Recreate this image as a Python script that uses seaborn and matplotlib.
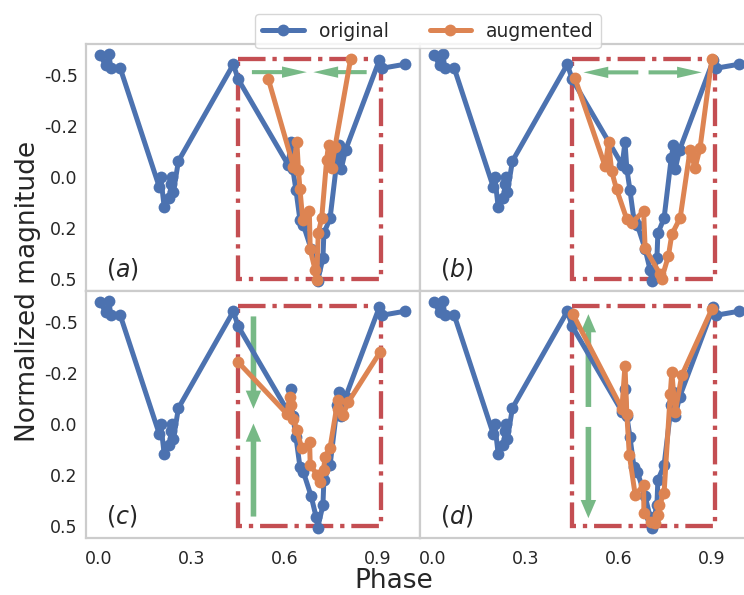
import matplotlib
matplotlib.use("Agg")
import matplotlib.pyplot as plt
import seaborn as sns
from matplotlib.patches import Rectangle

# ---------------- data ----------------
phase_orig = [0.003, 0.022, 0.032, 0.038, 0.068, 0.194, 0.199, 0.210, 0.226, 0.233,
              0.236, 0.240, 0.256, 0.433, 0.449, 0.610, 0.619, 0.625, 0.635, 0.648,
              0.659, 0.684, 0.700, 0.705, 0.722, 0.725, 0.745, 0.768, 0.775, 0.781,
              0.795, 0.904, 0.912, 0.987]
mag_orig = [-0.538, -0.494, -0.541, -0.480, -0.482, 0.042, -0.002, 0.130, 0.093, 0.031,
            -0.002, 0.064, -0.071, -0.497, -0.431, -0.054, -0.155, -0.036, 0.057, 0.189,
            0.211, 0.317, 0.409, 0.457, 0.357, 0.247, 0.181, -0.083, -0.142, -0.036,
            -0.120, -0.516, -0.480, -0.498]

# (a) horizontal squeeze
phase_a = [0.546, 0.627, 0.638, 0.643, 0.648, 0.657, 0.678, 0.681, 0.697, 0.702,
           0.707, 0.718, 0.734, 0.740, 0.750, 0.761, 0.811]
mag_a = [-0.432, -0.047, -0.154, -0.033, 0.054, 0.190, 0.147, 0.318, 0.410, 0.454,
         0.244, 0.182, -0.077, -0.143, -0.042, -0.134, -0.519]

# (b) horizontal stretch
phase_b = [0.458, 0.555, 0.566, 0.576, 0.592, 0.625, 0.641, 0.679, 0.684, 0.732,
           0.737, 0.759, 0.770, 0.797, 0.829, 0.834, 0.845, 0.861, 0.899]
mag_b = [-0.435, -0.048, -0.155, -0.026, 0.054, 0.186, 0.200, 0.150, 0.313, 0.427,
         0.449, 0.347, 0.252, 0.179, -0.121, -0.092, -0.041, -0.129, -0.520]

# (c) vertical squeeze
phase_c = [0.449, 0.605, 0.616, 0.618, 0.627, 0.638, 0.654, 0.679, 0.681, 0.704,
           0.711, 0.724, 0.729, 0.745, 0.770, 0.772, 0.786, 0.804, 0.906]
mag_c = [-0.273, -0.047, -0.120, -0.083, -0.025, 0.027, 0.107, 0.078, 0.180, 0.224,
         0.253, 0.202, 0.143, 0.103, -0.105, -0.069, -0.039, -0.098, -0.317]

# (d) vertical stretch
phase_d = [0.451, 0.609, 0.619, 0.625, 0.633, 0.652, 0.679, 0.680, 0.702, 0.716,
           0.724, 0.730, 0.745, 0.765, 0.770, 0.781, 0.802, 0.899]
mag_d = [-0.485, -0.068, -0.258, -0.043, 0.136, 0.312, 0.268, 0.392, 0.429, 0.436,
         0.400, 0.356, 0.304, -0.134, -0.229, -0.054, -0.215, -0.507]

panel_labels = ["(a)", "(b)", "(c)", "(d)"]
window_x = [0.448, 0.910]
window_y = [-0.520, 0.450]

# arrows: (x_start, y_start, x_end, y_end) per panel
arrows_a = [(0.493, -0.463, 0.670, -0.463), (0.863, -0.463, 0.691, -0.463)]
arrows_b = [(0.662, -0.462, 0.485, -0.462), (0.695, -0.462, 0.867, -0.462)]
arrows_c = [(0.498, -0.475, 0.498, -0.068), (0.498, 0.407, 0.498, -0.003)]
arrows_d = [(0.501, -0.076, 0.501, -0.485), (0.501, 0.012, 0.501, 0.414)]

yticks = [-0.45, -0.225, 0.0, 0.225, 0.45]
ytick_labels = ["-0.5", "-0.2", "0.0", "0.2", "0.5"]
xticks = [0.0, 0.3, 0.6, 0.9]
xtick_labels = ["0.0", "0.3", "0.6", "0.9"]

# ---------------- style ----------------
sns.set_theme(style="whitegrid")
plt.rcParams['font.family'] = ['DejaVu Sans']
pal = sns.color_palette("deep")
c_orig, c_aug, c_arrow, c_box = pal[0], pal[1], pal[2], pal[3]

W, H = 744, 595
fig = plt.figure(figsize=(W / 100, H / 100), dpi=100)

def px_axes(left, top, width, height):
    return fig.add_axes([left / W, 1 - (top + height) / H, width / W, height / H])

ax_pos = [(86, 44, 334, 247), (420, 44, 334, 247),
          (86, 291, 334, 247), (420, 291, 334, 247)]
aug = [(phase_a, mag_a), (phase_b, mag_b), (phase_c, mag_c), (phase_d, mag_d)]
arrows = [arrows_a, arrows_b, arrows_c, arrows_d]

axes = []
for i, pos in enumerate(ax_pos):
    ax = px_axes(*pos)
    axes.append(ax)
    ax.grid(False)
    for s in ax.spines.values():
        s.set_color("#cccccc")
        s.set_linewidth(1.6)

    rect = Rectangle((window_x[0], window_y[0]), window_x[1] - window_x[0],
                     window_y[1] - window_y[0], fill=False, edgecolor=c_box,
                     linestyle="-.", linewidth=3.1, zorder=1)
    ax.add_patch(rect)

    sns.lineplot(x=phase_orig, y=mag_orig, ax=ax, sort=False, estimator=None,
                 color=c_orig, marker="o", markersize=8.5, linewidth=3.6,
                 markeredgewidth=0, label="original" if i == 0 else None, zorder=3)
    px_, mg_ = aug[i]
    sns.lineplot(x=px_, y=mg_, ax=ax, sort=False, estimator=None,
                 color=c_aug, marker="o", markersize=8.5, linewidth=3.6,
                 markeredgewidth=0, label="augmented" if i == 0 else None, zorder=4)

    for (x0, y0, x1, y1) in arrows[i]:
        ax.arrow(x0, y0, x1 - x0, y1 - y0, width=0.018, head_width=0.05,
                 head_length=0.08, length_includes_head=True,
                 color=c_arrow, alpha=0.8, linewidth=0, zorder=2)

    ax.set_xlim(-0.042, 1.035)
    ax.set_ylim(0.5015, -0.587)
    ax.set_xticks(xticks)
    ax.set_yticks(yticks)
    if i >= 2:
        ax.set_xticklabels(xtick_labels)
    else:
        ax.set_xticklabels([])
    if i % 2 == 0:
        ax.set_yticklabels(ytick_labels)
    else:
        ax.set_yticklabels([])
    ax.tick_params(axis="x", labelsize=12.5, pad=9, length=0)
    ax.tick_params(axis="y", labelsize=12.5, pad=6, length=0)
    ax.set_xlabel("")
    ax.set_ylabel("")
    letter = panel_labels[i][1]
    ax.text(0.06, 0.09, "$(" + letter + ")$", transform=ax.transAxes,
            fontsize=17, va="center", ha="left", color="#262626")

handles, labels = axes[0].get_legend_handles_labels()
axes[0].get_legend().remove()
fig.legend(handles, labels, loc="upper center", ncol=2,
           bbox_to_anchor=(428 / W, 1 - 5 / H), fontsize=13.5,
           frameon=True, handlelength=2.2, columnspacing=2.2)

fig.text(394 / W, 1 - 581 / H, "Phase", fontsize=19, ha="center", va="center",
         color="#262626")
fig.text(28 / W, 1 - 291 / H, "Normalized magnitude", fontsize=19, ha="center",
         va="center", rotation=90, color="#262626")

fig.savefig("out.png", dpi=100)
